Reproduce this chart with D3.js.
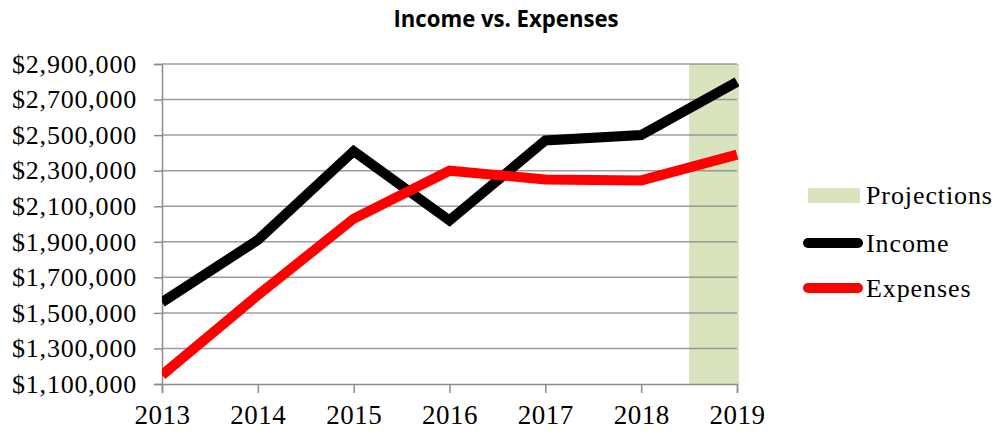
<!DOCTYPE html>
<html>
<head>
<meta charset="utf-8">
<script src="https://cdn.jsdelivr.net/npm/d3@7"></script>
<style>
  body { margin: 0; background: #fff; }
  svg { display: block; }
</style>
</head>
<body>
<div id="vis"></div>
<script>
const years = [2013, 2014, 2015, 2016, 2017, 2018, 2019];
const income = [1560000, 1910000, 2410000, 2020000, 2470000, 2500000, 2800000];
const expenses = [1150000, 1600000, 2030000, 2300000, 2250000, 2245000, 2390000];
const yTicks = [1100000, 1300000, 1500000, 1700000, 1900000, 2100000, 2300000, 2500000, 2700000, 2900000];
const projectionStart = 2018.5;
const legendItems = ["Projections", "Income", "Expenses"];

const WIDTH = 997;
const HEIGHT = 435;
const MARGIN = { top: 64, bottom: 51, left: 162, right: 260 };

const SVG = d3.select("#vis").append("svg")
    .attr("width", WIDTH)
    .attr("height", HEIGHT);

const xScale = d3.scaleLinear()
    .domain([2013, 2019])
    .range([MARGIN.left, WIDTH - MARGIN.right]);

const yScale = d3.scaleLinear()
    .domain([1100000, 2900000])
    .range([HEIGHT - MARGIN.bottom, MARGIN.top]);

const GREEN = "#d7e4bd";
const GRID = "#8c8c8c";
const SERIF = "'Liberation Serif', serif";

// titulo
SVG.append("text")
    .text("Income vs. Expenses")
    .attr("x", 506)
    .attr("y", 27)
    .attr("text-anchor", "middle")
    .attr("font-family", "'Open Sans', sans-serif")
    .attr("font-weight", "bold")
    .attr("font-size", 23.5)
    .attr("textLength", 225)
    .attr("lengthAdjust", "spacingAndGlyphs");

// banda de proyecciones
SVG.append("rect")
    .attr("x", xScale(projectionStart))
    .attr("y", yScale(2900000))
    .attr("width", xScale(2019) - xScale(projectionStart) + 2)
    .attr("height", yScale(1100000) - yScale(2900000))
    .attr("fill", GREEN);

// grilla
SVG.append("g")
    .selectAll("line")
    .data(yTicks.slice(1))
    .join("line")
    .attr("x1", xScale(2013))
    .attr("x2", xScale(2019))
    .attr("y1", d => yScale(d))
    .attr("y2", d => yScale(d))
    .attr("stroke", GRID)
    .attr("stroke-opacity", 0.85)
    .attr("stroke-width", 1.5);

const ejeY = SVG.append("g")
    .attr("transform", `translate(${MARGIN.left}, 0)`)
    .call(d3.axisLeft(yScale)
        .tickValues(yTicks)
        .tickSize(8)
        .tickPadding(17)
        .tickFormat(d => "$" + d3.format(",")(d)));

const ejeX = SVG.append("g")
    .attr("transform", `translate(0, ${HEIGHT - MARGIN.bottom})`)
    .call(d3.axisBottom(xScale)
        .tickValues(years)
        .tickSize(9)
        .tickPadding(12)
        .tickFormat(d3.format("d")));

[ejeY, ejeX].forEach(eje => {
    eje.select(".domain").attr("stroke", GRID).attr("stroke-width", 1.5);
    eje.selectAll(".tick line").attr("stroke", GRID).attr("stroke-width", 1.5);
    eje.selectAll("text")
        .attr("font-family", SERIF)
        .attr("fill", "#000");
});
ejeY.selectAll("text").attr("font-size", 26).attr("letter-spacing", 0.8);
ejeX.selectAll("text").attr("font-size", 27).attr("letter-spacing", 0.5);

// lineas
SVG.append("clipPath")
    .attr("id", "clip")
    .append("rect")
    .attr("x", xScale(2013))
    .attr("y", yScale(2900000) - 10)
    .attr("width", xScale(2019) - xScale(2013) + 2)
    .attr("height", yScale(1100000) - yScale(2900000) + 10);

const line = d3.line()
    .x((d, i) => xScale(years[i]))
    .y(d => yScale(d));

const lineas = SVG.append("g").attr("clip-path", "url(#clip)");

lineas.append("path")
    .datum(income)
    .attr("d", line)
    .attr("fill", "none")
    .attr("stroke", "#000")
    .attr("stroke-width", 10);

lineas.append("path")
    .datum(expenses)
    .attr("d", line)
    .attr("fill", "none")
    .attr("stroke", "#ff0000")
    .attr("stroke-width", 10);

// leyenda
const legend = SVG.append("g");
const legendY = [195, 243, 288];

legend.append("rect")
    .attr("x", 808)
    .attr("y", 188)
    .attr("width", 52)
    .attr("height", 15)
    .attr("fill", GREEN);

legend.append("line")
    .attr("x1", 808).attr("x2", 858)
    .attr("y1", legendY[1]).attr("y2", legendY[1])
    .attr("stroke", "#000")
    .attr("stroke-width", 10)
    .attr("stroke-linecap", "round");

legend.append("line")
    .attr("x1", 808).attr("x2", 858)
    .attr("y1", legendY[2]).attr("y2", legendY[2])
    .attr("stroke", "#ff0000")
    .attr("stroke-width", 10)
    .attr("stroke-linecap", "round");

legend.selectAll("text")
    .data(legendItems)
    .join("text")
    .text(d => d)
    .attr("x", 866)
    .attr("y", (d, i) => legendY[i])
    .attr("dy", "0.35em")
    .attr("font-family", SERIF)
    .attr("font-size", 26)
    .attr("letter-spacing", 0.9);
</script>
</body>
</html>
